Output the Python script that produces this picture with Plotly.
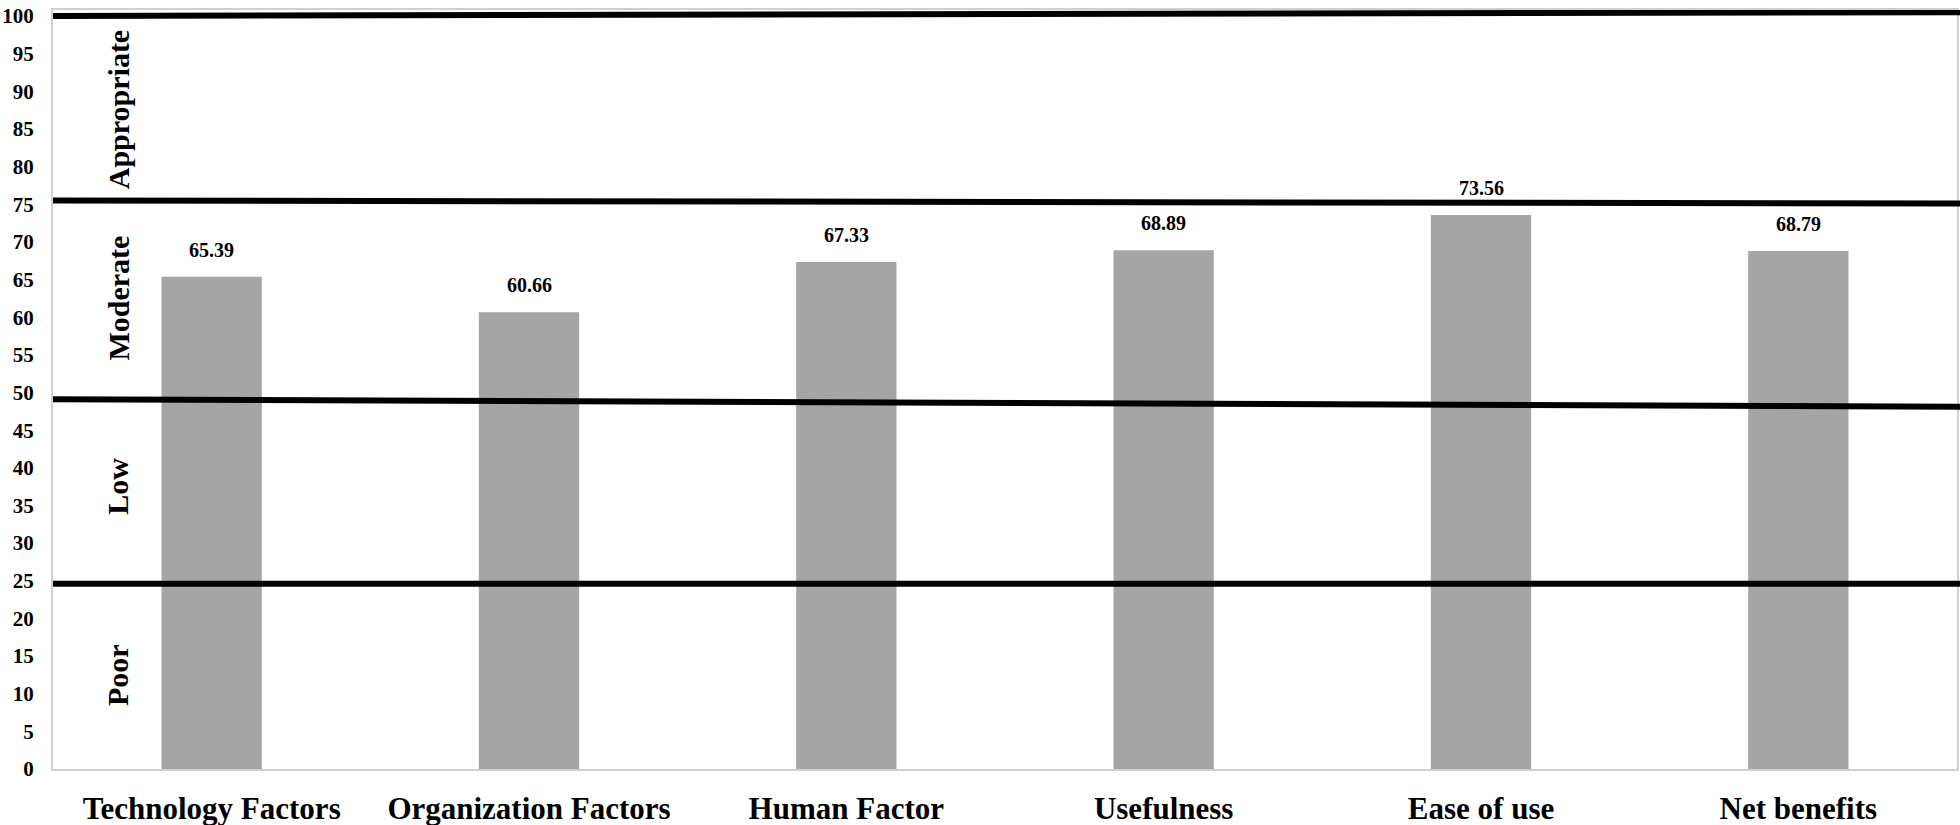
import plotly.graph_objects as go

# factor scores
categories = [
    "Technology Factors",
    "Organization Factors",
    "Human Factor",
    "Usefulness",
    "Ease of use",
    "Net benefits",
]
scores = [65.39, 60.66, 67.33, 68.89, 73.56, 68.79]

# rating bands (label at the middle of each band)
band_names = ["Poor", "Low", "Moderate", "Appropriate"]
band_mids = [12.5, 37.5, 62.5, 87.5]

# boundary lines as drawn (slightly slanted in the original), left and right end
boundary_left = [24.6, 49.1, 75.5, 100.0]
boundary_right = [24.6, 48.1, 75.1, 100.5]

y_ticks = list(range(0, 101, 5))

FONT = "Liberation Serif"

fig = go.Figure()

fig.add_trace(
    go.Bar(
        x=categories,
        y=scores,
        marker=dict(color="#a5a5a5", line=dict(width=0)),
        cliponaxis=False,
    )
)

# value labels above the bars
for cat, val in zip(categories, scores):
    fig.add_annotation(
        x=cat,
        y=val,
        text=f"<b>{val:.2f}</b>",
        showarrow=False,
        yanchor="bottom",
        yshift=14,
        font=dict(family=FONT, size=20, color="black"),
    )

# thick black band boundaries
for y0, y1 in zip(boundary_left, boundary_right):
    fig.add_shape(
        type="line",
        xref="paper",
        yref="y",
        x0=0,
        x1=1.003,
        y0=y0,
        y1=y1,
        line=dict(color="black", width=6),
        layer="above",
    )

# rotated band labels
for name, mid in zip(band_names, band_mids):
    fig.add_annotation(
        text=f"<b>{name}</b>",
        xref="paper",
        yref="y",
        x=0.0342,
        y=mid,
        xanchor="center",
        yanchor="middle",
        showarrow=False,
        textangle=-90,
        font=dict(family=FONT, size=30, color="black"),
    )

fig.update_layout(
    width=1960,
    height=825,
    margin=dict(l=53, r=3, t=10, b=56),
    paper_bgcolor="white",
    plot_bgcolor="white",
    showlegend=False,
    bargap=0.684,
    xaxis=dict(
        automargin=False,
        showgrid=False,
        showline=True,
        linecolor="#d0d0d0",
        linewidth=2,
        mirror=True,
        ticks="",
        ticklabelstandoff=11,
        tickfont=dict(family=FONT, size=31, color="black", weight="bold"),
    ),
    yaxis=dict(
        automargin=False,
        range=[0, 100.8],
        tickvals=y_ticks,
        showgrid=False,
        zeroline=False,
        showline=True,
        linecolor="#d0d0d0",
        linewidth=2,
        mirror=True,
        ticks="",
        ticklabelstandoff=13,
        ticklabeloverflow="allow",
        tickfont=dict(family=FONT, size=21, color="black", weight="bold"),
    ),
)

# drop the default page margin so the figure sits at the window's corner
fig.write_html(
    "out.html",
    config={"displayModeBar": False},
    post_script="document.body.style.margin = '0';",
)
